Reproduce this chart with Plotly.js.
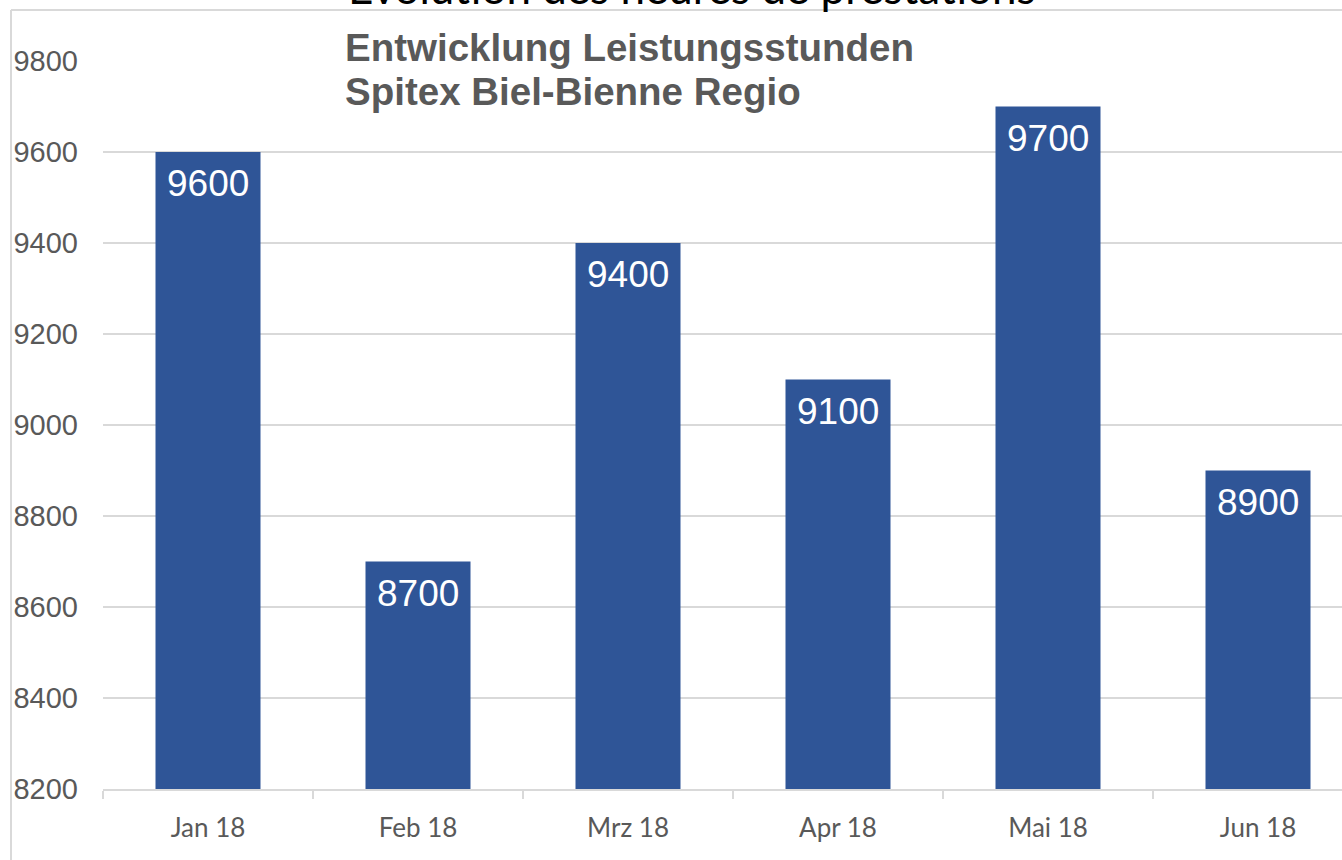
<!DOCTYPE html>
<html>
<head>
<meta charset="utf-8">
<script src="https://cdn.plot.ly/plotly-3.0.1.min.js"></script>
<style>html,body{margin:0;padding:0;background:#fff;}#chart{width:1342px;height:860px;}</style>
</head>
<body>
<div id="chart"></div>
<script>
const months = ["Jan 18", "Feb 18", "Mrz 18", "Apr 18", "Mai 18", "Jun 18"];
const hours = [9600, 8700, 9400, 9100, 9700, 8900];
const yTicks = [8200, 8400, 8600, 8800, 9000, 9200, 9400, 9600, 9800];
const mainTitle = "Evolution des heures de prestations";
const subtitleLines = ["Entwicklung Leistungsstunden", "Spitex Biel-Bienne Regio"];

const trace = {
  type: "bar",
  x: months,
  y: hours,
  width: 0.5,
  marker: {color: "#2F5597", line: {width: 0}},
  hoverinfo: "x+y"
};

const valueLabels = months.map((m, i) => ({
  x: m, y: hours[i], xref: "x", yref: "y",
  text: String(hours[i]), showarrow: false,
  xanchor: "center", yanchor: "top", yshift: -9,
  font: {family: "Liberation Sans, Arial, sans-serif", size: 37, color: "#ffffff"}
}));

const textAnns = [
  {x: 0.4754, y: 1.0625, xref: "paper", yref: "paper", text: mainTitle, showarrow: false,
   xanchor: "center", yanchor: "bottom",
   font: {family: "Lato, sans-serif", size: 44, color: "#000000"}},
  {x: 0.1937, y: 0.9857, xref: "paper", yref: "paper", text: "<b>" + subtitleLines[0] + "</b>", showarrow: false,
   xanchor: "left", yanchor: "bottom",
   font: {family: "Liberation Sans, Arial, sans-serif", size: 38.5, color: "#595959"}},
  {x: 0.1937, y: 0.9253, xref: "paper", yref: "paper", text: "<b>" + subtitleLines[1] + "</b>", showarrow: false,
   xanchor: "left", yanchor: "bottom",
   font: {family: "Liberation Sans, Arial, sans-serif", size: 38.5, color: "#595959"}}
];

const layout = {
  width: 1342, height: 860,
  margin: {l: 103, r: 0, t: 61, b: 71, pad: 0},
  paper_bgcolor: "#ffffff", plot_bgcolor: "#ffffff",
  showlegend: false,
  bargap: 0.5,
  xaxis: {
    type: "category",
    range: [-0.5, 5.4],
    showgrid: false,
    showline: true, linecolor: "#d9d9d9", linewidth: 2,
    ticks: "outside", tickson: "boundaries", ticklen: 8, tickcolor: "#d9d9d9", tickwidth: 2,
    ticklabelstandoff: 15,
    tickfont: {family: "Lato, sans-serif", size: 26, color: "#595959"},
    zeroline: false
  },
  yaxis: {
    range: [8200, 9800],
    tickvals: yTicks,
    ticktext: yTicks.map(String),
    showgrid: true, gridcolor: "#d9d9d9", gridwidth: 1.5,
    showline: false, zeroline: false, ticks: "",
    ticklabelstandoff: 24,
    tickfont: {family: "Liberation Sans, Arial, sans-serif", size: 29, color: "#595959"}
  },
  annotations: textAnns.concat(valueLabels),
  shapes: [
    {type: "line", xref: "paper", yref: "paper", x0: -0.07425, x1: -0.07425, y0: -0.2, y1: 1.0701,
     line: {color: "#d9d9d9", width: 2}},
    {type: "line", xref: "paper", yref: "paper", x0: -0.07425, x1: 1.1, y0: 1.0701, y1: 1.0701,
     line: {color: "#d9d9d9", width: 2}}
  ]
};

Plotly.newPlot("chart", [trace], layout, {displayModeBar: false, staticPlot: true});
</script>
</body>
</html>
